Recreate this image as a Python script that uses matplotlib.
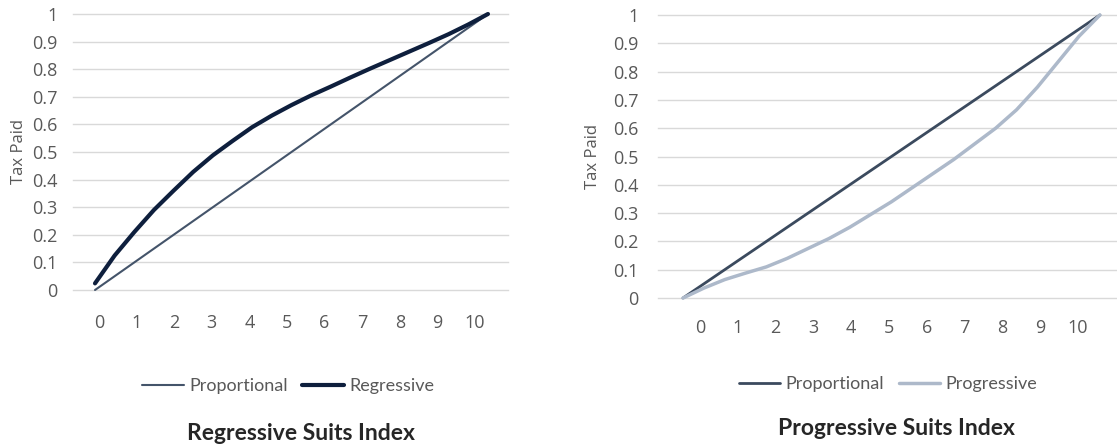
import numpy as np
import matplotlib.pyplot as plt

# ---------------- data ----------------
x_half = [0, 0.5, 1, 1.5, 2, 2.5, 3, 3.5, 4, 4.5, 5, 5.5, 6, 6.5, 7, 7.5, 8, 8.5, 9, 9.5, 10]
x_int = [0, 1, 2, 3, 4, 5, 6, 7, 8, 9, 10]

proportional = [0, 0.1, 0.2, 0.3, 0.4, 0.5, 0.6, 0.7, 0.8, 0.9, 1.0]
regressive = [0.024, 0.125, 0.21, 0.29, 0.36, 0.428, 0.488, 0.54, 0.59, 0.632, 0.67,
              0.705, 0.737, 0.77, 0.802, 0.833, 0.864, 0.895, 0.927, 0.962, 1.0]
progressive = [0.0, 0.035, 0.065, 0.088, 0.11, 0.14, 0.175, 0.21, 0.25, 0.295, 0.34,
               0.39, 0.44, 0.49, 0.545, 0.60, 0.665, 0.745, 0.835, 0.925, 1.0]

tick_labels = [str(i) for i in range(11)]
y_ticks = [0, 0.1, 0.2, 0.3, 0.4, 0.5, 0.6, 0.7, 0.8, 0.9, 1]
y_labels = ['0', '0.1', '0.2', '0.3', '0.4', '0.5', '0.6', '0.7', '0.8', '0.9', '1']

#################################################

plt.rcParams['font.family'] = ['Open Sans', 'DejaVu Sans']
lato = ['Lato', 'DejaVu Sans']
txt = '#595959'
grid = '#d9d9d9'

W, H = 1117, 446
fig = plt.figure(figsize=(W / 100, H / 100), dpi=100)


def px_axes(x0, x1, ytop, ybot):
  return fig.add_axes([x0 / W, 1 - ybot / H, (x1 - x0) / W, (ybot - ytop) / H])


def style(ax, xlim, tick_pos, ypad, xpad):
  ax.set_xlim(*xlim)
  ax.set_ylim(0, 1)
  for s in ax.spines.values():
    s.set_visible(False)
  ax.set_yticks(y_ticks)
  ax.set_yticklabels(y_labels)
  ax.set_xticks(tick_pos)
  ax.set_xticklabels(tick_labels)
  ax.tick_params(axis='y', length=0, pad=ypad, labelsize=13, labelcolor=txt)
  ax.tick_params(axis='x', length=0, pad=xpad, labelsize=13, labelcolor=txt)
  for yv in y_ticks:
    ax.axhline(yv, color=grid, lw=1, zorder=0, clip_on=False)
  ax.set_ylabel('Tax Paid', color=txt, fontsize=12)


line_kw = dict(clip_on=False, solid_capstyle='round', solid_joinstyle='round')
leg_kw = dict(loc='center', ncol=2, frameon=False, labelcolor=txt,
              handlelength=2.3, handletextpad=0.3, columnspacing=0.8,
              prop={'family': lato, 'size': 13})

# left: regressive
ax1 = px_axes(73, 508, 14, 290)
l1, = ax1.plot(x_int, proportional, color='#44546a', lw=1.5, **line_kw)
l2, = ax1.plot(x_half, regressive, color='#0e1f3d', lw=3, **line_kw)
style(ax1, (-0.56, 10.51), np.linspace(0.10, 9.67, 11), 11, 17)
ax1.yaxis.set_label_coords(-0.105, 0.5)
ax1.legend([l1, l2], ['Proportional', 'Regressive'],
           bbox_to_anchor=(288 / W, 1 - 386 / H), bbox_transform=fig.transFigure, **leg_kw)
fig.text(301 / W, 1 - 440 / H, 'Regressive Suits Index', ha='center', va='baseline',
         fontsize=16.5, fontweight='bold', color='#262626', family=lato)

# right: progressive
ax2 = px_axes(658, 1117, 15, 298)
r1, = ax2.plot(x_int, proportional, color='#3b4a5e', lw=2, **line_kw)
r2, = ax2.plot(x_half, progressive, color='#adb9ca', lw=2.5, **line_kw)
style(ax2, (-0.6, 10.41), np.linspace(0.41, 9.47, 11), 14, 15)
ax2.yaxis.set_label_coords(-0.125, 0.5)
ax2.legend([r1, r2], ['Proportional', 'Progressive'],
           bbox_to_anchor=(888 / W, 1 - 384 / H), bbox_transform=fig.transFigure, **leg_kw)
fig.text(896 / W, 1 - 435 / H, 'Progressive Suits Index', ha='center', va='baseline',
         fontsize=16.5, fontweight='bold', color='#262626', family=lato)

fig.savefig('out.png', dpi=100)
